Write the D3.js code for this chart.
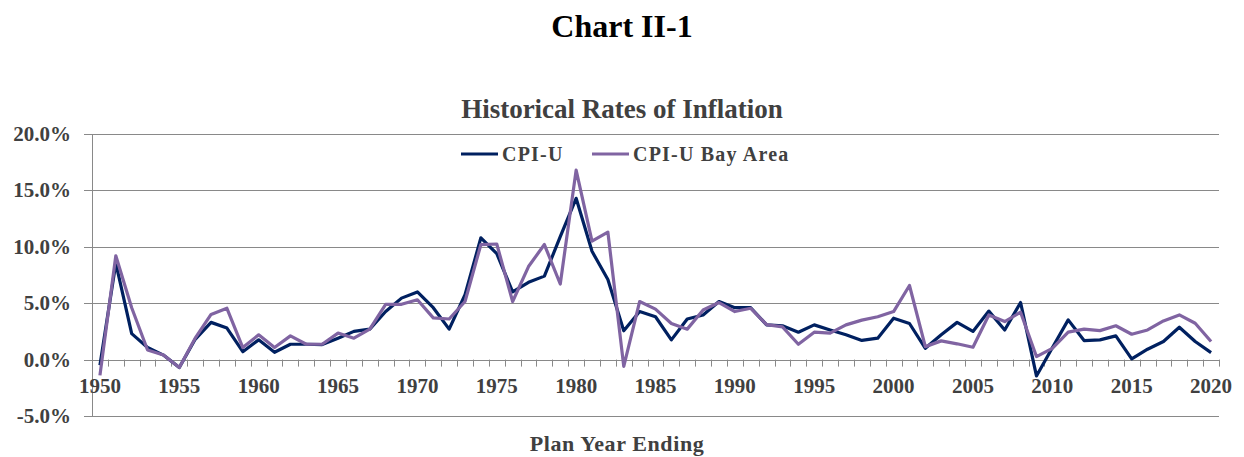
<!DOCTYPE html>
<html>
<head>
<meta charset="utf-8">
<script src="https://cdn.jsdelivr.net/npm/d3@7"></script>
<style>
  body { margin: 0; background: #fff; }
  svg text { font-family: "Liberation Serif", "Times New Roman", serif; font-weight: bold; }
</style>
</head>
<body>
<svg id="chart" width="1244" height="457"></svg>
<script>
"use strict";

// plan years 1950 - 2020
var years = d3.range(1950, 2021);

// CPI-U, annual rate (%)
var cpiU = [
  -0.5, 8.55, 2.3, 1.07, 0.4, -0.7, 1.8, 3.3, 2.8, 0.7,
  1.75, 0.65, 1.36, 1.36, 1.33, 1.9, 2.5, 2.7, 4.26, 5.45,
  6.0, 4.6, 2.7, 5.75, 10.8, 9.4, 6.0, 6.85, 7.4, 10.9,
  14.3, 9.6, 7.1, 2.55, 4.26, 3.8, 1.75, 3.6, 3.96, 5.15,
  4.6, 4.6, 3.08, 3.0, 2.43, 3.08, 2.63, 2.2, 1.7, 1.9,
  3.67, 3.2, 1.0, 2.2, 3.3, 2.5, 4.3, 2.63, 5.06, -1.45,
  1.05, 3.52, 1.69, 1.75, 2.1, 0.06, 0.92, 1.6, 2.87, 1.6,
  0.62
];

// CPI-U Bay Area, annual rate (%)
var cpiBay = [
  -1.4, 9.2, 4.6, 0.85, 0.4, -0.7, 1.9, 4.0, 4.55, 1.07,
  2.2, 1.07, 2.1, 1.36, 1.36, 2.35, 1.9, 2.7, 4.9, 4.9,
  5.3, 3.7, 3.6, 5.15, 10.2, 10.25, 5.15, 8.25, 10.2, 6.7,
  16.8, 10.5, 11.3, -0.6, 5.15, 4.47, 3.2, 2.7, 4.4, 5.06,
  4.26, 4.55, 3.1, 2.9, 1.36, 2.43, 2.34, 3.08, 3.5, 3.8,
  4.26, 6.57, 1.15, 1.66, 1.4, 1.1, 3.96, 3.37, 4.2, 0.27,
  1.0, 2.43, 2.7, 2.57, 3.0, 2.25, 2.63, 3.43, 3.96, 3.22,
  1.6
];

var yTicks = [-5, 0, 5, 10, 15, 20];
var xLabelYears = d3.range(1950, 2021, 5);

var seriesNames = ["CPI-U", "CPI-U Bay Area"];
var seriesColors = ["#002060", "#8064A2"];

var svg = d3.select("#chart");

var plotLeft = 92, plotRight = 1219, plotTop = 134, plotBottom = 416;

var x = d3.scaleBand()
    .domain(years)
    .range([plotLeft, plotRight]);

var y = d3.scaleLinear()
    .domain([-5, 20])
    .range([plotBottom, plotTop]);

function cx(yr) { return x(yr) + x.bandwidth() / 2; }

// titles
svg.append("text")
  .attr("x", 622).attr("y", 37)
  .attr("text-anchor", "middle")
  .attr("font-size", "32px")
  .attr("fill", "#000")
  .text("Chart II-1");

svg.append("text")
  .attr("x", 622).attr("y", 118)
  .attr("text-anchor", "middle")
  .attr("font-size", "27px")
  .attr("fill", "#404040")
  .text("Historical Rates of Inflation");

// gridlines + y labels
var yAxis = svg.append("g").attr("class", "y-axis");
yAxis.selectAll("line.grid")
  .data(yTicks)
  .enter()
  .append("line")
  .attr("class", "grid")
  .attr("x1", plotLeft - 8)
  .attr("x2", plotRight)
  .attr("y1", function(d) { return Math.round(y(d)) + 0.5; })
  .attr("y2", function(d) { return Math.round(y(d)) + 0.5; })
  .attr("stroke", "#898989")
  .attr("stroke-width", 1);

yAxis.selectAll("text")
  .data(yTicks)
  .enter()
  .append("text")
  .attr("x", 71)
  .attr("y", function(d) { return y(d) + 7; })
  .attr("text-anchor", "end")
  .attr("font-size", "21px")
  .attr("fill", "#404040")
  .text(function(d) { return d.toFixed(1) + "%"; });

svg.append("line")
  .attr("x1", plotLeft + 0.5).attr("x2", plotLeft + 0.5)
  .attr("y1", plotTop).attr("y2", plotBottom)
  .attr("stroke", "#898989");

// category ticks on the zero line
var bounds = years.map(function(d) { return x(d); }).concat([plotRight]);
svg.append("g").selectAll("line")
  .data(bounds)
  .enter()
  .append("line")
  .attr("x1", function(d) { return Math.round(d) + 0.5; })
  .attr("x2", function(d) { return Math.round(d) + 0.5; })
  .attr("y1", y(0))
  .attr("y2", y(0) + 7)
  .attr("stroke", "#898989");

svg.append("g").selectAll("text")
  .data(xLabelYears)
  .enter()
  .append("text")
  .attr("x", function(d) { return cx(d); })
  .attr("y", 393)
  .attr("text-anchor", "middle")
  .attr("font-size", "21px")
  .attr("fill", "#404040")
  .text(function(d) { return d; });

svg.append("text")
  .attr("x", 617).attr("y", 451)
  .attr("text-anchor", "middle")
  .attr("font-size", "22px")
  .attr("letter-spacing", "0.6px")
  .attr("fill", "#404040")
  .text("Plan Year Ending");

// lines
var line = d3.line()
  .x(function(d, i) { return cx(years[i]); })
  .y(function(d) { return y(d); });

[cpiU, cpiBay].forEach(function(s, i) {
  svg.append("path")
    .datum(s)
    .attr("d", line)
    .attr("fill", "none")
    .attr("stroke", seriesColors[i])
    .attr("stroke-width", 3.2)
    .attr("stroke-linejoin", "round");
});

// legend
var legendX = [461, 592];
var legend = svg.append("g").selectAll("g")
  .data(seriesNames)
  .enter()
  .append("g")
  .attr("transform", function(d, i) { return "translate(" + legendX[i] + ",154)"; });

legend.append("line")
  .attr("x1", 0).attr("x2", 37)
  .attr("stroke", function(d, i) { return seriesColors[i]; })
  .attr("stroke-width", 3.2);

legend.append("text")
  .attr("x", 41)
  .attr("y", 6.5)
  .attr("font-size", "20px")
  .attr("letter-spacing", "1.2px")
  .attr("fill", "#404040")
  .text(function(d) { return d; });
</script>
</body>
</html>
